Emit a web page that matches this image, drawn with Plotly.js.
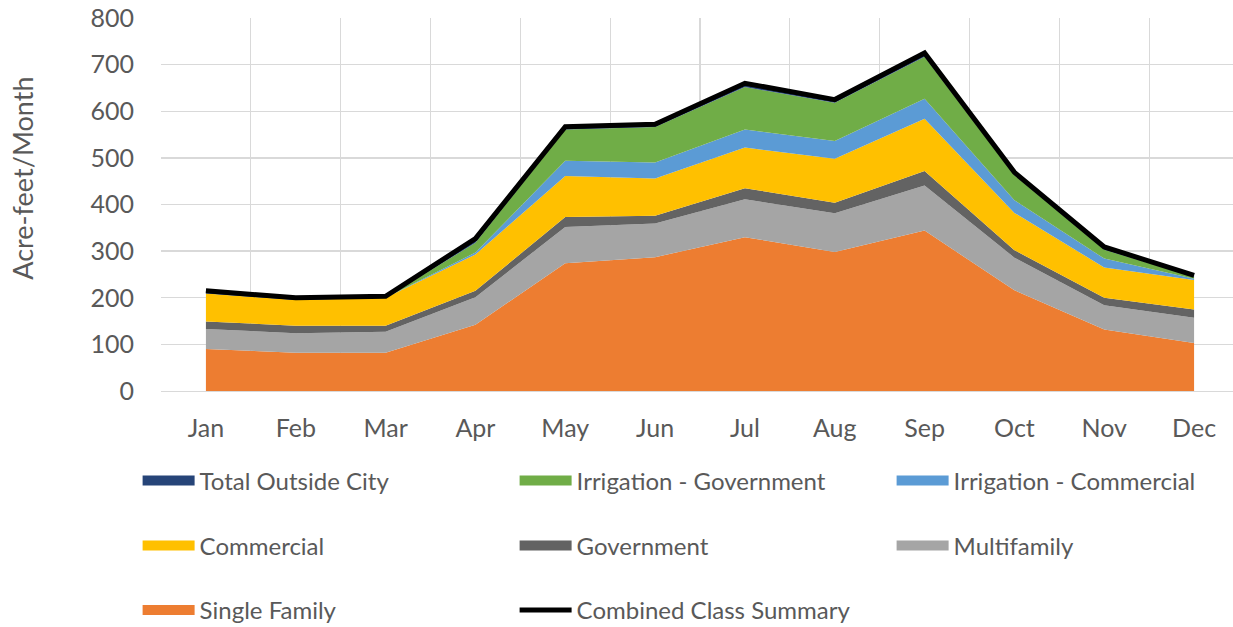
<!DOCTYPE html>
<html>
<head>
<meta charset="utf-8">
<script src="https://cdn.plot.ly/plotly-3.0.1.min.js"></script>
<style>
html,body{margin:0;padding:0;overflow:hidden;background:#fff;}
#chart{width:1300px;height:627px;}
</style>
</head>
<body>
<div id="chart"></div>
<script>
const months = ["Jan","Feb","Mar","Apr","May","Jun","Jul","Aug","Sep","Oct","Nov","Dec"];
const singleFamily = [90, 82, 82, 142, 274, 287, 330, 298, 344, 216, 132, 103];
const multifamily = [43, 42, 45, 59, 78, 72, 81, 83, 97, 70, 52, 54];
const government = [16, 16, 13, 14, 21, 17, 24, 23, 31, 16, 16, 18];
const commercial = [60, 55, 60, 78, 88, 80, 87, 94, 112, 80, 65, 63];
const irrigationCommercial = [0, 0, 0, 4, 33, 34, 39, 38, 43, 27, 19, 3];
const irrigationGovernment = [0, 0, 0, 21, 67, 76, 91, 82, 90, 54, 19, 4];
const totalOutsideCity = [6, 5, 3, 9, 6, 6, 8, 7, 7, 6, 6, 3];
const combinedClassSummary = [215, 200, 203, 327, 567, 572, 660, 625, 725, 469, 309, 248];
const yAxisTitle = "Acre-feet/Month";

const font = "Lato, 'Open Sans', sans-serif";
const txt = "#595959";

function area(name, y, color) {
  return {
    type: "scatter", mode: "lines", x: months, y: y, name: name,
    stackgroup: "one", fill: "tonexty", fillcolor: color,
    line: {width: 0, color: color}, showlegend: false, hoverinfo: "skip"
  };
}
function legendEntry(name, color, legendId, width) {
  return {
    type: "scatter", mode: "lines", x: [null], y: [null], name: name,
    line: {width: width, color: color}, legend: legendId, showlegend: true, hoverinfo: "skip"
  };
}

const traces = [
  area("Single Family", singleFamily, "#ED7D31"),
  area("Multifamily", multifamily, "#A5A5A5"),
  area("Government", government, "#636363"),
  area("Commercial", commercial, "#FFC000"),
  area("Irrigation - Commercial", irrigationCommercial, "#5B9BD5"),
  area("Irrigation - Government", irrigationGovernment, "#70AD47"),
  area("Total Outside City", totalOutsideCity, "#264478"),
  {type: "scatter", mode: "lines", x: months, y: combinedClassSummary, name: "Combined Class Summary",
   line: {width: 5, color: "#000000"}, showlegend: false, hoverinfo: "skip"},
  legendEntry("Total Outside City", "#264478", "legend", 15),
  legendEntry("Irrigation - Government", "#70AD47", "legend", 15),
  legendEntry("Irrigation - Commercial", "#5B9BD5", "legend", 15),
  legendEntry("Commercial", "#FFC000", "legend2", 15),
  legendEntry("Government", "#636363", "legend2", 15),
  legendEntry("Multifamily", "#A5A5A5", "legend2", 15),
  legendEntry("Single Family", "#ED7D31", "legend3", 15),
  legendEntry("Combined Class Summary", "#000000", "legend3", 5)
];

function leg(y) {
  return {orientation: "h", x: -0.0217, xanchor: "left", y: y, yanchor: "middle",
    entrywidth: 310, itemwidth: 52, font: {family: font, size: 24, color: txt},
    bgcolor: "rgba(0,0,0,0)", borderwidth: 0, traceorder: "normal", itemclick: false, itemdoubleclick: false};
}

const layout = {
  width: 1300, height: 627,
  margin: {l: 161, r: 61, t: 18, b: 236, autoexpand: false},
  paper_bgcolor: "#ffffff", plot_bgcolor: "#ffffff",
  font: {family: font, size: 24, color: txt},
  showlegend: true,
  xaxis: {
    type: "category", range: [-0.5, 11.5], tickson: "boundaries",
    showgrid: true, gridcolor: "#D9D9D9", gridwidth: 1.3,
    showline: true, linecolor: "#D9D9D9", linewidth: 1.3,
    ticks: "", ticklabelstandoff: 15, automargin: false,
    tickfont: {family: font, size: 25, color: txt}, fixedrange: true
  },
  yaxis: {
    range: [0, 800], dtick: 100, tick0: 0,
    showgrid: true, gridcolor: "#D9D9D9", gridwidth: 1.3, zeroline: false,
    showline: false, ticks: "", ticklabelstandoff: 26, automargin: false,
    tickfont: {family: font, size: 25, color: txt},
    fixedrange: true
  },
  annotations: [{
    text: yAxisTitle, xref: "paper", yref: "paper", x: -0.128, y: 0.569,
    xanchor: "center", yanchor: "middle", textangle: -90, showarrow: false,
    font: {family: font, size: 27, color: txt}
  }],
  legend: leg(-0.241),
  legend2: leg(-0.4153),
  legend3: leg(-0.5884)
};

Plotly.newPlot("chart", traces, layout, {displayModeBar: false, staticPlot: true});
</script>
</body>
</html>
